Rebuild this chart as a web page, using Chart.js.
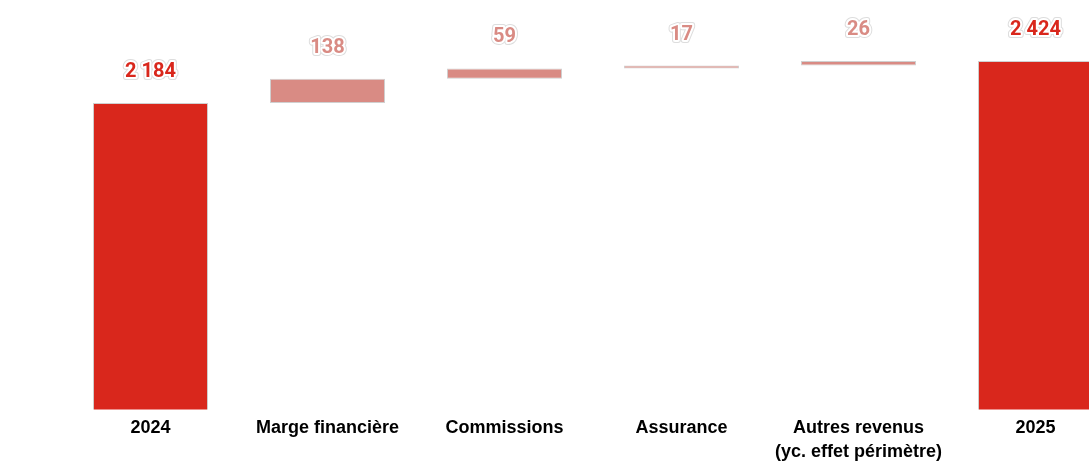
<!DOCTYPE html>
<html>
<head>
<meta charset="utf-8">
<script src="https://cdn.jsdelivr.net/npm/chart.js@4.4.1/dist/chart.umd.min.js"></script>
<style>
  html, body { margin: 0; padding: 0; background: #fff; overflow: hidden; }
  #wrap { width: 1124px; height: 470px; position: relative; }
</style>
</head>
<body>
<div id="wrap"><canvas id="myChart"></canvas></div>
<script>
// Chart data
const categories = ['2024', 'Marge financière', 'Commissions', 'Assurance', ['Autres revenus', '(yc. effet périmètre)'], '2025'];
const startTotal = 2184;
const deltas = [138, 59, 17, 26];
const endTotal = 2424;
const yMin = 440;
const yMax = 2771;

const totalColor = '#D9271C';
const deltaColor = '#D98B84';

// Build floating bars from the values
let ranges = [[0, startTotal]];
let labelValues = [startTotal];
let colors = [totalColor];
let running = startTotal;
deltas.forEach(d => {
    ranges.push([running, running + d]);
    labelValues.push(d);
    colors.push(deltaColor);
    running += d;
});
ranges.push([0, endTotal]);
labelValues.push(endTotal);
colors.push(totalColor);

function fmt(v) {
    return String(v).replace(/\B(?=(\d{3})+(?!\d))/g, ' ');
}

// Labels above each bar
const valueLabels = {
    id: 'valueLabels',
    afterDatasetsDraw(chart) {
        const ctx = chart.ctx;
        const meta = chart.getDatasetMeta(0);
        ctx.save();
        ctx.font = 'bold 20px Roboto';
        ctx.textAlign = 'center';
        ctx.textBaseline = 'middle';
        ctx.lineJoin = 'round';
        meta.data.forEach((bar, i) => {
            const top = Math.min(bar.y, bar.base);
            const txt = fmt(labelValues[i]);
            const y = top - 31;
            ctx.strokeStyle = '#dddddd';
            ctx.lineWidth = 6;
            ctx.strokeText(txt, bar.x, y);
            ctx.strokeStyle = '#ffffff';
            ctx.lineWidth = 4;
            ctx.strokeText(txt, bar.x, y);
            ctx.fillStyle = colors[i];
            ctx.fillText(txt, bar.x, y);
        });
        ctx.restore();
    }
};

const ctx = document.getElementById('myChart').getContext('2d');
const myChart = new Chart(ctx, {
    type: 'bar',
    data: {
        labels: categories,
        datasets: [{
            data: ranges,
            backgroundColor: colors,
            borderColor: 'rgba(150,150,150,0.45)',
            borderWidth: 1,
            borderSkipped: false,
            barPercentage: 0.65,
            categoryPercentage: 1.0
        }]
    },
    options: {
        responsive: true,
        maintainAspectRatio: false,
        animation: false,
        layout: { padding: { left: 62, top: 0, right: 0, bottom: 0 } },
        plugins: {
            legend: { display: false },
            tooltip: { enabled: false }
        },
        scales: {
            x: {
                grid: { display: false, drawTicks: false },
                border: { display: false },
                ticks: {
                    color: '#000',
                    padding: 6,
                    maxRotation: 0,
                    autoSkip: false,
                    font: { family: 'Liberation Sans Narrow, Arial Narrow, Liberation Sans, sans-serif', weight: 'bold', size: 18, lineHeight: 1.35 }
                }
            },
            y: {
                display: false,
                min: yMin,
                max: yMax
            }
        }
    },
    plugins: [valueLabels]
});
</script>
</body>
</html>
